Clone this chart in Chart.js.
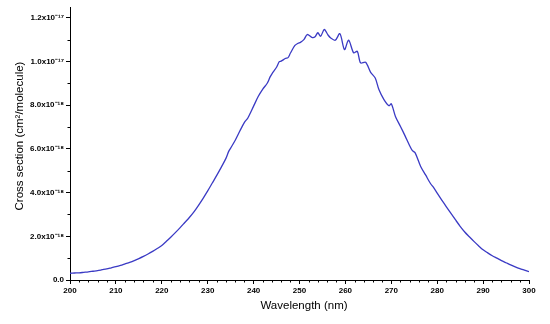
<!DOCTYPE html>
<html lang="en">
<head>
    <meta charset="UTF-8">
    <title>Cross section</title>
    <script src="https://cdn.jsdelivr.net/npm/chart.js"></script>
</head>
<style>
    body {
        margin: 0;
        padding: 0;
        background-color: #ffffff;
    }
    .wrap {
        width: 550px;
        height: 324px;
    }
</style>
<body>
    <div class="wrap">
        <canvas id="chart" width="550" height="324"></canvas>
    </div>

    <script>
        // wavelength in nm, cross section in units of 1e-18 cm^2/molecule
        const wavelength = [
            200, 201, 202, 203, 204, 205, 206, 207, 208, 209,
            210, 211, 212, 213, 214, 215, 216, 217, 218, 219,
            220, 221, 222, 223, 224, 225, 226, 227, 228, 229,
            230, 231, 232, 233, 234, 234.6, 235, 236, 237, 238, 238.7, 239, 240,
            241, 242, 243, 243.6, 244, 245, 245.6, 246, 246.9, 247.5, 248, 249, 249.7, 250.2,
            251, 251.7, 252.8, 253.4, 254, 254.6, 255.4, 256.2, 256.8, 257.8, 258.8,
            259.8, 260.7, 261.8, 262.6, 263.3, 264.4, 265.5, 266.5, 267.3, 268.4,
            269.5, 270, 270.9, 272, 273, 274, 274.6, 275.2, 276.4, 277.5, 278.5, 279.2,
            280, 281, 282, 283, 284, 285, 286, 287, 288, 289,
            290, 291, 292, 293, 294, 295, 296, 297, 298, 299, 300
        ];
        const sigma18 = [
            0.31, 0.32, 0.33, 0.35, 0.37, 0.40, 0.43, 0.47, 0.51, 0.56,
            0.61, 0.67, 0.74, 0.81, 0.89, 0.98, 1.08, 1.19, 1.31, 1.44,
            1.58, 1.77, 1.97, 2.18, 2.40, 2.63, 2.86, 3.12, 3.42, 3.74,
            4.08, 4.44, 4.80, 5.18, 5.58, 5.90, 6.04, 6.40, 6.82, 7.22, 7.40, 7.52, 7.96,
            8.40, 8.74, 9.02, 9.30, 9.44, 9.74, 10.00, 10.02, 10.14, 10.18, 10.38, 10.74, 10.84, 10.88,
            11.02, 11.24, 11.10, 11.14, 11.32, 11.16, 11.47, 11.22, 11.08, 10.98, 11.28,
            10.55, 10.98, 10.40, 10.47, 9.94, 9.97, 9.51, 9.25, 8.72, 8.26,
            7.98, 8.07, 7.49, 7.03, 6.60, 6.15, 5.92, 5.82, 5.20, 4.80, 4.43, 4.24,
            3.98, 3.66, 3.35, 3.05, 2.75, 2.46, 2.20, 1.98, 1.77, 1.57,
            1.38, 1.24, 1.11, 1.00, 0.89, 0.79, 0.69, 0.60, 0.52, 0.45, 0.38
        ];

        const xTicks = [200, 210, 220, 230, 240, 250, 260, 270, 280, 290, 300];
        const yTicks = [0, 2, 4, 6, 8, 10, 12];
        const yTickLabels = ['0.0', '2.0x10\u207B\u00B9\u2078', '4.0x10\u207B\u00B9\u2078', '6.0x10\u207B\u00B9\u2078',
                             '8.0x10\u207B\u00B9\u2078', '1.0x10\u207B\u00B9\u2077', '1.2x10\u207B\u00B9\u2077'];
        const xTitle = 'Wavelength (nm)';
        const yTitle = 'Cross section (cm\u00B2/molecule)';

        const lineColor = '#3a3ac4';
        const fontFamily = "'Liberation Sans', Arial, sans-serif";

        // minor ticks and axis titles
        const extras = {
            id: 'extras',
            afterDraw(chart) {
                const c = chart.ctx;
                const xs = chart.scales.x;
                const ys = chart.scales.y;
                c.save();
                c.strokeStyle = '#000';
                c.lineWidth = 1;
                c.beginPath();
                for (let v = 202; v < 300; v += 2) {
                    if (v % 10 === 0) continue;
                    const px = Math.round(xs.getPixelForValue(v)) + 0.5;
                    c.moveTo(px, ys.bottom);
                    c.lineTo(px, ys.bottom + 2.5);
                }
                for (let v = 1; v < 12.5; v += 2) {
                    const py = Math.round(ys.getPixelForValue(v)) + 0.5;
                    c.moveTo(xs.left, py);
                    c.lineTo(xs.left - 2.5, py);
                }
                c.stroke();

                c.fillStyle = '#000';
                c.font = '11.5px ' + fontFamily;
                c.textAlign = 'center';
                c.textBaseline = 'middle';
                c.fillText(xTitle, 304, 306);
                c.translate(19.5, 136);
                c.rotate(-Math.PI / 2);
                c.fillText(yTitle, 0, 0);
                c.restore();
            }
        };

        const ctx = document.getElementById('chart').getContext('2d');
        const chart = new Chart(ctx, {
            type: 'line',
            data: {
                datasets: [{
                    data: wavelength.map((w, i) => ({ x: w, y: sigma18[i] })),
                    borderColor: lineColor,
                    borderWidth: 1.3,
                    pointRadius: 0,
                    fill: false,
                    tension: 0.3
                }]
            },
            options: {
                responsive: false,
                animation: false,
                layout: { padding: { left: 0, right: 21, top: 7, bottom: 0 } },
                plugins: {
                    legend: { display: false },
                    tooltip: { enabled: false }
                },
                scales: {
                    x: {
                        type: 'linear',
                        min: 200,
                        max: 300,
                        afterFit: (s) => { s.height = 44; },
                        afterBuildTicks: (s) => { s.ticks = xTicks.map(v => ({ value: v })); },
                        border: { color: '#000', width: 1 },
                        grid: { drawOnChartArea: false, color: '#000', tickLength: 4 },
                        ticks: {
                            color: '#000',
                            padding: 2,
                            maxRotation: 0,
                            font: { family: fontFamily, size: 8, weight: 'bold' }
                        }
                    },
                    y: {
                        min: 0,
                        max: 12.5,
                        afterFit: (s) => { s.width = 70; },
                        afterBuildTicks: (s) => { s.ticks = yTicks.map(v => ({ value: v })); },
                        border: { color: '#000', width: 1 },
                        grid: { drawOnChartArea: false, color: '#000', tickLength: 4 },
                        ticks: {
                            color: '#000',
                            padding: 2,
                            font: { family: fontFamily, size: 8, weight: 'bold' },
                            callback: (v) => yTickLabels[yTicks.indexOf(v)]
                        }
                    }
                }
            },
            plugins: [extras]
        });
    </script>
</body>
</html>
